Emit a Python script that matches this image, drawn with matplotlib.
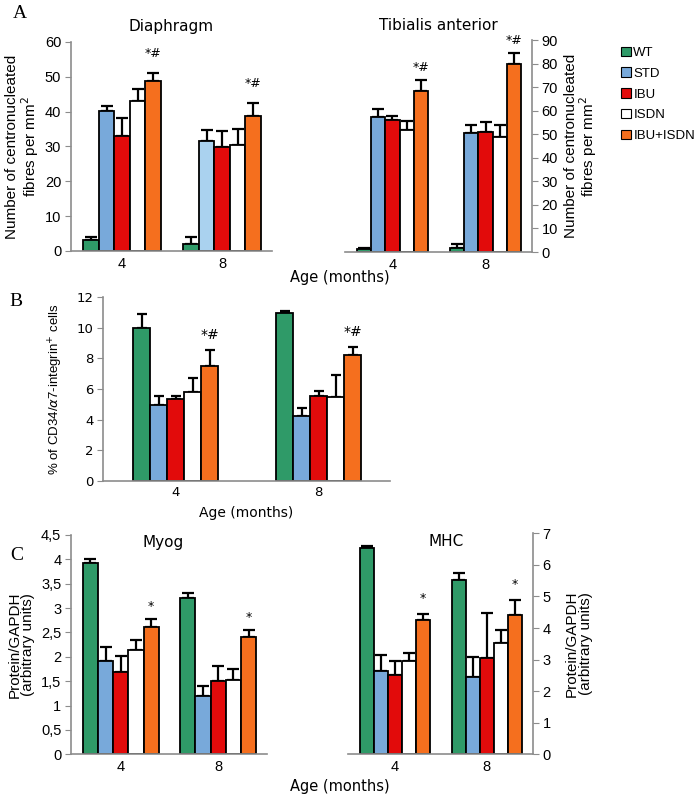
import numpy as np
import matplotlib
matplotlib.use('Agg')
import matplotlib.pyplot as plt
from matplotlib.patches import Patch

# data (rows: series, columns: age groups)
groups = ['4', '8']
series = ['WT', 'STD', 'IBU', 'ISDN', 'IBU+ISDN']

dia_mean = [[3.2, 2.0], [40.1, 31.7], [32.9, 29.9], [43.0, 30.5], [48.9, 38.8]]
dia_err = [[0.9, 2.1], [1.6, 3.1], [5.4, 4.5], [3.5, 4.6], [2.1, 3.6]]

tib_mean = [[1.2, 1.7], [57.2, 50.4], [56.0, 51.0], [51.6, 49.0], [68.5, 80.0]]
tib_err = [[0.6, 1.8], [3.5, 3.7], [1.8, 4.0], [4.2, 5.0], [4.7, 4.6]]

cd34_mean = [[10.0, 11.0], [4.95, 4.25], [5.32, 5.54], [5.8, 5.5], [7.5, 8.2]]
cd34_err = [[0.9, 0.13], [0.6, 0.48], [0.24, 0.35], [0.94, 1.4], [1.05, 0.52]]

myog_mean = [[3.92, 3.21], [1.91, 1.2], [1.69, 1.5], [2.13, 1.53], [2.61, 2.41]]
myog_err = [[0.09, 0.1], [0.3, 0.21], [0.32, 0.31], [0.21, 0.22], [0.17, 0.15]]

mhc_mean = [[6.53, 5.52], [2.64, 2.44], [2.51, 3.04], [2.97, 3.54], [4.26, 4.41]]
mhc_err = [[0.08, 0.21], [0.51, 0.63], [0.43, 1.45], [0.23, 0.4], [0.18, 0.48]]

colors = ['#2f9a68', '#78a9da', '#e20b0b', '#ffffff', '#f56f1e']
light_blue = '#aad2ef'

ARIAL = 'Liberation Sans'
VERD = 'DejaVu Sans'
SERIF = 'Liberation Serif'
GREY = '#8c8c8c'


def bars(ax, mean, err, width, sig, sig_off, sig_size=9, tick_font=ARIAL,
         tick_size=10, side='left', ymax=None, ystep=None, fmt=None,
         color_over=None):
    mean = np.array(mean)
    err = np.array(err)
    x = np.arange(len(groups))
    n = len(series)
    for i in range(n):
        pos = x + (i - (n - 1) / 2) * width
        cols = [colors[i]] * len(groups)
        if color_over is not None and color_over[0] == i:
            cols[color_over[1]] = color_over[2]
        ax.bar(pos, mean[i], width, color=cols, edgecolor='black',
               linewidth=1.3, zorder=2)
        ax.errorbar(pos, mean[i], yerr=[np.zeros(len(groups)), err[i]],
                    fmt='none', ecolor='black', elinewidth=1.6,
                    capsize=width * 28, capthick=1.6, zorder=1)
    # significance marks on last series
    last = n - 1
    pos = x + (last - (n - 1) / 2) * width
    for j in range(len(groups)):
        ax.annotate(sig, (pos[j], mean[last][j] + err[last][j]),
                    xytext=(0, sig_off), textcoords='offset points',
                    ha='center', va='center', fontsize=sig_size,
                    family=VERD)
    ax.set_xlim(-0.51, 1.5)
    ax.set_ylim(0, ymax)
    ax.set_yticks(np.arange(0, ymax + ystep / 2, ystep))
    if fmt:
        ax.set_yticklabels([fmt(v) for v in np.arange(0, ymax + ystep / 2, ystep)])
    ax.set_xticks(x)
    ax.set_xticklabels(groups)
    for s in ['top', 'left', 'right']:
        ax.spines[s].set_visible(False)
    ax.spines[side].set_visible(True)
    ax.spines[side].set_color(GREY)
    ax.spines['bottom'].set_color(GREY)
    ax.spines[side].set_linewidth(1.2)
    ax.spines['bottom'].set_linewidth(1.2)
    if side == 'right':
        ax.yaxis.tick_right()
        ax.yaxis.set_label_position('right')
    ax.tick_params(axis='y', direction='out', length=4, color=GREY,
                   labelsize=tick_size, pad=3)
    ax.tick_params(axis='x', length=0, labelsize=tick_size, pad=4)
    for lab in ax.get_xticklabels() + ax.get_yticklabels():
        lab.set_family(tick_font)


fig = plt.figure(figsize=(6.97, 7.96), dpi=100)

# Panel A
axA1 = fig.add_axes([0.1019, 0.6847, 0.2884, 0.2626])
bars(axA1, dia_mean, dia_err, 0.155, '*#', 14, ymax=60, ystep=10,
     tick_size=10.5, color_over=(1, 1, light_blue))
axA1.set_title('Diaphragm', family=VERD, fontsize=11, pad=8)
axA1.set_ylabel('Number of centronucleated\nfibres per mm$^2$',
                family=ARIAL, fontsize=11, linespacing=1.0, labelpad=3)

axA2 = fig.add_axes([0.495, 0.6834, 0.2683, 0.2663])
bars(axA2, tib_mean, tib_err, 0.152, '*#', 9, ymax=90, ystep=10,
     tick_size=10.5, side='right')
axA2.set_title('Tibialis anterior', family=VERD, fontsize=11, pad=7)
axA2.set_ylabel('Number of centronucleated\nfibres per mm$^2$',
                family=ARIAL, fontsize=11, linespacing=1.0, labelpad=4)

fig.text(0.488, 0.652, 'Age (months)', family=VERD, fontsize=10.5,
         ha='center', va='center')
fig.text(0.018, 0.983, 'A', family=SERIF, fontsize=14, ha='left',
         va='center')

handles = [Patch(facecolor=c, edgecolor='black', linewidth=0.8) for c in colors]
fig.legend(handles, series, loc='upper left', bbox_to_anchor=(0.884, 0.948),
           frameon=False, prop={'family': ARIAL, 'size': 9.5},
           handlelength=0.7, handleheight=0.7, handletextpad=0.2,
           labelspacing=0.65, borderaxespad=0)

# Panel B
axB = fig.add_axes([0.1478, 0.3961, 0.4118, 0.2304])
bars(axB, cd34_mean, cd34_err, 0.119, '*#', 11, sig_size=10, tick_font=VERD,
     tick_size=9.5, ymax=12, ystep=2)
axB.set_ylabel('% of CD34/$\\alpha$7-integrin$^{+}$ cells', family=ARIAL,
               fontsize=9.5, labelpad=8)
axB.set_xlabel('Age (months)', family=VERD, fontsize=10, labelpad=5)
fig.text(0.014, 0.621, 'B', family=SERIF, fontsize=14, ha='left',
         va='center')

# Panel C
comma = lambda v: ('%g' % v).replace('.', ',')
axC1 = fig.add_axes([0.1019, 0.0524, 0.2812, 0.2755])
bars(axC1, myog_mean, myog_err, 0.156, '*', 9, ymax=4.5, ystep=0.5,
     fmt=comma, tick_size=10.5)
axC1.set_ylabel('Protein/GAPDH\n(arbitrary units)', family=ARIAL,
                fontsize=11, linespacing=1.0, labelpad=4)
axC1.text(0.47, 0.965, 'Myog', transform=axC1.transAxes, family=VERD,
          fontsize=11, ha='center', va='center')

axC2 = fig.add_axes([0.4993, 0.0524, 0.265, 0.2776])
bars(axC2, mhc_mean, mhc_err, 0.153, '*', 11, ymax=7, ystep=1,
     tick_size=10.5, side='right')
axC2.set_ylabel('Protein/GAPDH\n(arbitrary units)', family=ARIAL,
                fontsize=11, linespacing=1.0, labelpad=10)
axC2.text(0.53, 0.965, 'MHC', transform=axC2.transAxes, family=VERD,
          fontsize=11, ha='center', va='center')

fig.text(0.488, 0.012, 'Age (months)', family=VERD, fontsize=10.5,
         ha='center', va='center')
fig.text(0.014, 0.302, 'C', family=SERIF, fontsize=14, ha='left',
         va='center')

fig.savefig('out.png', dpi=100)
